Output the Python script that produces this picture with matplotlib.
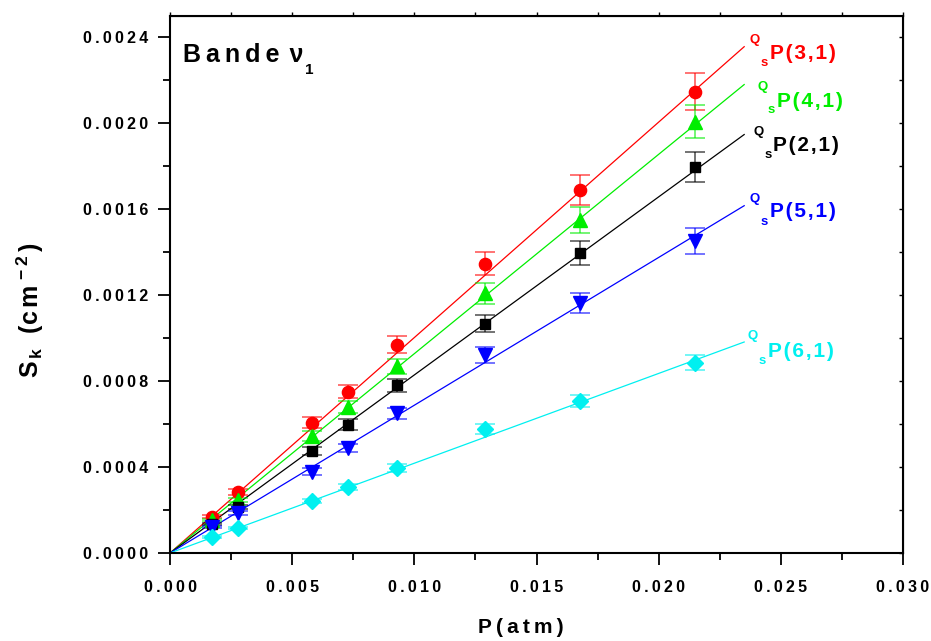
import numpy as np
import matplotlib
matplotlib.use("Agg")
import matplotlib.pyplot as plt
from matplotlib.ticker import FuncFormatter, MultipleLocator

# ---------------- data ----------------
pressure = [0.0017, 0.0028, 0.0058, 0.0073, 0.0093, 0.0129, 0.0168, 0.0215]

s_p31 = [0.000168, 0.000284, 0.000606, 0.000750, 0.000970, 0.001347, 0.001690, 0.002148]
s_p41 = [0.000154, 0.000247, 0.000545, 0.000680, 0.000870, 0.001210, 0.001550, 0.002008]
s_p21 = [0.000135, 0.000214, 0.000475, 0.000597, 0.000780, 0.001067, 0.001398, 0.001799]
s_p51 = [0.000121, 0.000186, 0.000378, 0.000489, 0.000650, 0.000923, 0.001165, 0.001454]
s_p61 = [0.000075, 0.000117, 0.000242, 0.000308, 0.000396, 0.000578, 0.000708, 0.000885]

e_p31 = [0.000007, 0.000012, 0.000025, 0.000030, 0.000040, 0.000053, 0.000068, 0.000085]
e_p41 = [0.000006, 0.000010, 0.000022, 0.000027, 0.000035, 0.000049, 0.000062, 0.000078]
e_p21 = [0.000006, 0.000009, 0.000020, 0.000025, 0.000032, 0.000040, 0.000056, 0.000070]
e_p51 = [0.000005, 0.000008, 0.000016, 0.000020, 0.000027, 0.000037, 0.000047, 0.000060]
e_p61 = [0.000004, 0.000005, 0.000010, 0.000013, 0.000017, 0.000023, 0.000027, 0.000035]

# fitted slopes (S_k = slope * P)
slopes = [0.1003, 0.0928, 0.0829, 0.0688, 0.0418]
fit_end = 0.0235

series_names = ["3,1", "4,1", "2,1", "5,1", "6,1"]
series_vals = [s_p31, s_p41, s_p21, s_p51, s_p61]
series_errs = [e_p31, e_p41, e_p21, e_p51, e_p61]

# ---------------- style ----------------
colors = ["#ff0000", "#00ee00", "#000000", "#0000ff", "#00f0f0"]
markers = ["o", "^", "s", "v", "D"]
msizes = [8.8, 10.5, 7.2, 10.5, 8.0]

W, H = 931, 641
FONT = ["Liberation Sans", "DejaVu Sans"]
plt.rcParams["font.family"] = FONT
plt.rcParams["mathtext.fontset"] = "custom"
plt.rcParams["mathtext.rm"] = "Liberation Sans:bold"
plt.rcParams["mathtext.bf"] = "Liberation Sans:bold"
plt.rcParams["mathtext.it"] = "Liberation Sans:bold"

TS = "\u2009"
HS = "\u200a"


def spaced(s, sep=TS):
    return sep.join(s)


fig = plt.figure(figsize=(W / 100, H / 100), dpi=100)
ax = fig.add_axes([170 / W, 1 - 553 / H, (903 - 170) / W, (553 - 16) / H])


def px(x, y):
    return x / W, 1 - y / H


xline = np.linspace(0, fit_end, 50)
for vals, errs, c, m, ms, k in zip(series_vals, series_errs, colors, markers, msizes, slopes):
    ax.plot(xline, k * xline, color=c, lw=0.9, zorder=2)
    ax.errorbar(pressure, vals, yerr=errs, fmt="none", ecolor=c, alpha=0.55,
                elinewidth=1.4, capsize=7.5, capthick=1.4, zorder=3)
    ax.plot(pressure, vals, linestyle="none", marker=m, ms=ms, color=c,
            markeredgecolor=c, zorder=4)

ax.set_xlim(0, 0.030)
ax.set_ylim(0, 0.0025)
ax.xaxis.set_major_locator(MultipleLocator(0.005))
ax.xaxis.set_minor_locator(MultipleLocator(0.0025))
ax.yaxis.set_major_locator(MultipleLocator(0.0004))
ax.yaxis.set_minor_locator(MultipleLocator(0.0002))
ax.xaxis.set_major_formatter(FuncFormatter(lambda v, p: spaced(f"{v:.3f}")))
ax.yaxis.set_major_formatter(FuncFormatter(lambda v, p: spaced(f"{v:.4f}")))

for sp in ax.spines.values():
    sp.set_linewidth(1.5)

ax.tick_params(which="major", direction="out", length=8.5, width=1.3, pad=7,
               labelsize=11.5, top=False, right=False)
ax.tick_params(which="minor", direction="out", length=5, width=1.3,
               top=False, right=False)
ax.tick_params(axis="x", which="major", pad=11)
for lab in ax.get_xticklabels() + ax.get_yticklabels():
    lab.set_fontweight("bold")

# mirrored small ticks on top and right
secx = ax.secondary_xaxis("top")
secx.xaxis.set_major_locator(MultipleLocator(0.0025))
secx.tick_params(direction="out", length=3, width=1.0, labeltop=False)
secy = ax.secondary_yaxis("right")
secy.yaxis.set_major_locator(MultipleLocator(0.0002))
secy.tick_params(direction="in", length=3, width=1.0, labelright=False)

# axis titles
fig.text(*px(521, 633), spaced("P(atm)"), fontsize=15, fontweight="bold",
         ha="center", va="baseline")
fig.text(*px(30, 310), r"$\mathbf{S_{\,k}\ \ (c\,m^{\,-2}\,)}$", fontsize=18,
         rotation=90, ha="center", va="center")

# panel title
fig.text(*px(183, 62), spaced("Bande") + TS + TS + "ν", fontsize=18,
         fontweight="bold", ha="left", va="baseline")
fig.text(*px(305, 74), "1", fontsize=11, fontweight="bold", ha="left", va="baseline")

# curve labels: (Q left, Q base), (s left, s base), (P left, P base)
label_pos = [
    ((750, 43), (761, 66), (770, 59)),
    ((757, 90), (768, 113), (777, 107)),
    ((753, 135), (765, 158), (773, 151)),
    ((750, 202), (761, 225), (770, 217)),
    ((748, 339), (759, 364), (768, 357)),
]
for name, c, (qp, sp_, pp) in zip(series_names, colors, label_pos):
    fig.text(*px(*qp), "Q", fontsize=9.5, fontweight="bold", color=c, va="baseline")
    fig.text(*px(*sp_), "s", fontsize=9.5, fontweight="bold", color=c, va="baseline")
    fig.text(*px(*pp), spaced(f"P({name})", HS), fontsize=15, fontweight="bold",
             color=c, va="baseline")

fig.savefig("out.png", dpi=100)
